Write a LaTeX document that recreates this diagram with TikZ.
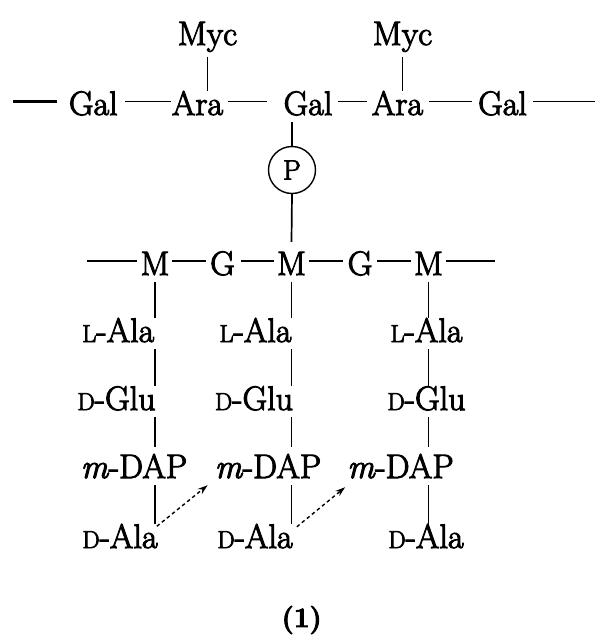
\documentclass[tikz,border=0pt]{standalone}
\usepackage{fontspec}
\setmainfont{Latin Modern Roman}[FakeBold=3]
\usetikzlibrary{arrows.meta,calc}
\newcommand{\smcap}[1]{{\fontsize{24.5}{28}\selectfont #1}}
\begin{document}
\begin{tikzpicture}[x=1pt,y=-1pt,
  lab/.style={anchor=base,inner sep=0pt,text height=24pt,text depth=7pt,font=\fontsize{34}{40}\selectfont},
  bond/.style={line width=1.7pt},
  xlink/.style={line width=1.4pt,dash pattern=on 3.5pt off 3pt,-{Stealth[length=10pt,width=6.5pt]}}]
\useasboundingbox (0,0) rectangle (595,638);
% top chain
\node[lab] (myc1) at (207.5,45) {Myc};
\node[lab] (myc2) at (402.5,45) {Myc};
\node[lab] (gal1) at (93.3,115) {Gal};
\node[lab] (ara1) at (197.5,115) {Ara};
\node[lab] (gal2) at (308,115) {Gal};
\node[lab] (ara2) at (397.5,115) {Ara};
\node[lab] (gal3) at (502.5,115) {Gal};
\coordinate (l1) at (13,101.5);
\coordinate (r1) at (595,101.5);
\node[draw,circle,line width=1.4pt,minimum size=47pt,inner sep=0pt,font=\fontsize{28}{30}\selectfont] (p) at (292,170) {P};
% glycan chain
\node[lab] (m1) at (155,275) {M};
\node[lab] (g1) at (222.5,275) {G};
\node[lab] (m2) at (291.5,275) {M};
\node[lab] (g2) at (360,275) {G};
\node[lab] (m3) at (428.5,275) {M};
\coordinate (l2) at (86.7,260.7);
\coordinate (r2) at (495,260.7);
% peptides
\node[lab] (la1) at (118.3,342) {\smcap{L}-Ala};
\node[lab] (la2) at (255.5,342) {\smcap{L}-Ala};
\node[lab] (la3) at (426.5,342) {\smcap{L}-Ala};
\node[lab] (dg1) at (116.5,410) {\smcap{D}-Glu};
\node[lab] (dg2) at (254,410) {\smcap{D}-Glu};
\node[lab] (dg3) at (426.5,410) {\smcap{D}-Glu};
\node[lab] (dap1) at (134,478) {\textit{m}-DAP};
\node[lab] (dap2) at (268,478) {\textit{m}-DAP};
\node[lab] (dap3) at (400.5,478) {\textit{m}-DAP};
\node[lab] (da1) at (120,548) {\smcap{D}-Ala};
\node[lab] (da2) at (255,548) {\smcap{D}-Ala};
\node[lab] (da3) at (426,548) {\smcap{D}-Ala};
\node[lab,font=\fontsize{28}{32}\selectfont\bfseries] (lbl) at (301.7,627) {(1)};
% top chain bonds
\draw[line width=2.6pt] (l1) -- ([shift={(-12,-13.5)}]gal1.base west);
\draw[bond] ([shift={(7,-13.5)}]gal1.base east) -- ([shift={(-1,-13.5)}]ara1.base west);
\draw[bond] ([shift={(4.5,-13.5)}]ara1.base east) -- ([shift={(-16,-13.5)}]gal2.base west);
\draw[bond] ([shift={(5.5,-13.5)}]gal2.base east) -- ([shift={(-4.5,-13.5)}]ara2.base west);
\draw[bond] ([shift={(6,-13.5)}]ara2.base east) -- ([shift={(-6,-13.5)}]gal3.base west);
\draw[bond] ([shift={(6,-13.5)}]gal3.base east) -- (r1);
\draw[bond] ([yshift=-5pt]myc1.south) -- (myc1.south |- ara1.north);
\draw[bond] ([yshift=-5pt]myc2.south) -- (myc2.south |- ara2.north);
\draw[bond] (p.north |- gal2.south) -- (p.north);
\draw[bond] (p.south) -- ([yshift=9pt]m2.north);
% glycan bonds
\draw[bond] (l2) -- ([shift={(-3,-14.3)}]m1.base west);
\draw[bond] ([shift={(2.5,-14.3)}]m1.base east) -- ([shift={(-4,-14.3)}]g1.base west);
\draw[bond] ([shift={(6,-14.3)}]g1.base east) -- ([shift={(-3,-14.3)}]m2.base west);
\draw[bond] ([shift={(3,-14.3)}]m2.base east) -- ([shift={(-4.5,-14.3)}]g2.base west);
\draw[bond] ([shift={(4.5,-14.3)}]g2.base east) -- ([shift={(-3,-14.3)}]m3.base west);
\draw[bond] ([shift={(3,-14.3)}]m3.base east) -- (r2);
% peptide bonds
\foreach \m/\a/\g/\d/\e in {m1/la1/dg1/dap1/da1, m2/la2/dg2/dap2/da2, m3/la3/dg3/dap3/da3}{
  \draw[bond] (\m.south) -- (\m.south |- \a.north);
  \draw[bond] (\m.south |- \a.south) -- (\m.south |- \g.north);
  \draw[bond] (\m.south |- \g.south) -- ([yshift=7pt]\m.south |- \d.north);
  \draw[bond] (\m.south |- \d.south) -- (\m.south |- \e.north);
}
% cross-links
\draw[xlink] ([shift={(-1,2.5)}]da1.north east) -- ([shift={(-7,0)}]dap2.south west);
\draw[xlink] ([shift={(4,3)}]da2.north east) -- ([shift={(-2,2)}]dap3.south west);
\end{tikzpicture}
\end{document}
